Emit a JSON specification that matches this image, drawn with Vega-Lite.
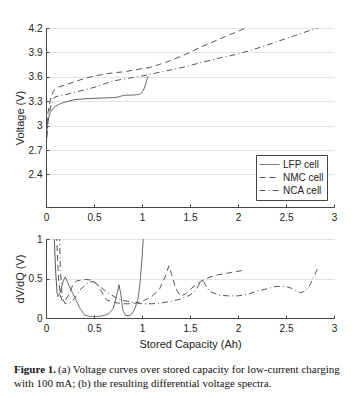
{
  "$schema": "https://vega.github.io/schema/vega-lite/v6.json",
  "padding": {"left": 14, "top": 23, "right": 5, "bottom": 5},
  "config": {
    "view": {"stroke": null},
    "font": "Liberation Sans",
    "axis": {
      "labelFont": "Liberation Sans", "labelFontSize": 10, "labelColor": "#222",
      "titleFont": "Liberation Sans", "titleFontSize": 11, "titleFontWeight": "normal", "titleColor": "#222",
      "domainColor": "#444", "tickColor": "#444", "tickSize": -3, "labelPadding": 7,
      "labelOverlap": false, "labelFlush": false, "format": ".1~f",
      "gridColor": "#e4e4e4", "gridWidth": 1
    },
    "axisX": {"labelPadding": 8},
    "legend": {
      "orient": "bottom-right", "offset": 7, "padding": 3, "strokeColor": "#444", "fillColor": "white",
      "cornerRadius": 0, "labelFont": "Liberation Sans", "labelFontSize": 10, "labelColor": "#222",
      "symbolType": "stroke", "symbolSize": 400, "symbolStrokeWidth": 1, "symbolStrokeColor": "#555",
      "rowPadding": 0, "clipHeight": 13, "labelOffset": 3, "title": null
    }
  },
  "datasets": {
    "volt": [
      {"cell": "LFP cell", "q": 0.0, "v": 2.55}, {"cell": "LFP cell", "q": 0.005, "v": 2.8}, {"cell": "LFP cell", "q": 0.01, "v": 2.95},
      {"cell": "LFP cell", "q": 0.02, "v": 3.05}, {"cell": "LFP cell", "q": 0.04, "v": 3.15}, {"cell": "LFP cell", "q": 0.07, "v": 3.21},
      {"cell": "LFP cell", "q": 0.1, "v": 3.24}, {"cell": "LFP cell", "q": 0.15, "v": 3.27}, {"cell": "LFP cell", "q": 0.2, "v": 3.29},
      {"cell": "LFP cell", "q": 0.3, "v": 3.32}, {"cell": "LFP cell", "q": 0.4, "v": 3.33}, {"cell": "LFP cell", "q": 0.5, "v": 3.335},
      {"cell": "LFP cell", "q": 0.6, "v": 3.34}, {"cell": "LFP cell", "q": 0.7, "v": 3.345}, {"cell": "LFP cell", "q": 0.75, "v": 3.35},
      {"cell": "LFP cell", "q": 0.8, "v": 3.37}, {"cell": "LFP cell", "q": 0.85, "v": 3.375}, {"cell": "LFP cell", "q": 0.9, "v": 3.375},
      {"cell": "LFP cell", "q": 0.95, "v": 3.38}, {"cell": "LFP cell", "q": 0.98, "v": 3.39}, {"cell": "LFP cell", "q": 1.0, "v": 3.41},
      {"cell": "LFP cell", "q": 1.02, "v": 3.45}, {"cell": "LFP cell", "q": 1.04, "v": 3.52}, {"cell": "LFP cell", "q": 1.055, "v": 3.58},
      {"cell": "LFP cell", "q": 1.065, "v": 3.61},
      {"cell": "NMC cell", "q": 0.0, "v": 2.9}, {"cell": "NMC cell", "q": 0.02, "v": 3.15}, {"cell": "NMC cell", "q": 0.05, "v": 3.35},
      {"cell": "NMC cell", "q": 0.08, "v": 3.43}, {"cell": "NMC cell", "q": 0.12, "v": 3.47}, {"cell": "NMC cell", "q": 0.2, "v": 3.5},
      {"cell": "NMC cell", "q": 0.3, "v": 3.54}, {"cell": "NMC cell", "q": 0.4, "v": 3.58}, {"cell": "NMC cell", "q": 0.5, "v": 3.61},
      {"cell": "NMC cell", "q": 0.6, "v": 3.63}, {"cell": "NMC cell", "q": 0.7, "v": 3.65}, {"cell": "NMC cell", "q": 0.8, "v": 3.66},
      {"cell": "NMC cell", "q": 0.9, "v": 3.68}, {"cell": "NMC cell", "q": 1.0, "v": 3.7}, {"cell": "NMC cell", "q": 1.1, "v": 3.72},
      {"cell": "NMC cell", "q": 1.2, "v": 3.76}, {"cell": "NMC cell", "q": 1.3, "v": 3.8}, {"cell": "NMC cell", "q": 1.4, "v": 3.85},
      {"cell": "NMC cell", "q": 1.5, "v": 3.9}, {"cell": "NMC cell", "q": 1.6, "v": 3.96}, {"cell": "NMC cell", "q": 1.7, "v": 4.01},
      {"cell": "NMC cell", "q": 1.8, "v": 4.06}, {"cell": "NMC cell", "q": 1.9, "v": 4.11}, {"cell": "NMC cell", "q": 2.0, "v": 4.16},
      {"cell": "NMC cell", "q": 2.08, "v": 4.2},
      {"cell": "NCA cell", "q": 0.0, "v": 2.7}, {"cell": "NCA cell", "q": 0.02, "v": 3.05}, {"cell": "NCA cell", "q": 0.05, "v": 3.25},
      {"cell": "NCA cell", "q": 0.09, "v": 3.35}, {"cell": "NCA cell", "q": 0.15, "v": 3.37}, {"cell": "NCA cell", "q": 0.2, "v": 3.38},
      {"cell": "NCA cell", "q": 0.3, "v": 3.41}, {"cell": "NCA cell", "q": 0.4, "v": 3.44}, {"cell": "NCA cell", "q": 0.5, "v": 3.47},
      {"cell": "NCA cell", "q": 0.6, "v": 3.51}, {"cell": "NCA cell", "q": 0.7, "v": 3.55}, {"cell": "NCA cell", "q": 0.8, "v": 3.57},
      {"cell": "NCA cell", "q": 0.9, "v": 3.59}, {"cell": "NCA cell", "q": 1.0, "v": 3.61}, {"cell": "NCA cell", "q": 1.2, "v": 3.66},
      {"cell": "NCA cell", "q": 1.4, "v": 3.71}, {"cell": "NCA cell", "q": 1.6, "v": 3.77}, {"cell": "NCA cell", "q": 1.8, "v": 3.83},
      {"cell": "NCA cell", "q": 2.0, "v": 3.88}, {"cell": "NCA cell", "q": 2.2, "v": 3.95}, {"cell": "NCA cell", "q": 2.4, "v": 4.03},
      {"cell": "NCA cell", "q": 2.6, "v": 4.11}, {"cell": "NCA cell", "q": 2.8, "v": 4.19}, {"cell": "NCA cell", "q": 2.83, "v": 4.2}
    ],
    "dvdq": [
      {"cell": "LFP cell", "q": 0.085, "d": 1.05}, {"cell": "LFP cell", "q": 0.1, "d": 0.6}, {"cell": "LFP cell", "q": 0.115, "d": 0.32},
      {"cell": "LFP cell", "q": 0.125, "d": 0.27}, {"cell": "LFP cell", "q": 0.15, "d": 0.33}, {"cell": "LFP cell", "q": 0.18, "d": 0.47},
      {"cell": "LFP cell", "q": 0.2, "d": 0.52}, {"cell": "LFP cell", "q": 0.22, "d": 0.47}, {"cell": "LFP cell", "q": 0.25, "d": 0.38},
      {"cell": "LFP cell", "q": 0.3, "d": 0.26}, {"cell": "LFP cell", "q": 0.35, "d": 0.13}, {"cell": "LFP cell", "q": 0.4, "d": 0.04},
      {"cell": "LFP cell", "q": 0.45, "d": 0.02}, {"cell": "LFP cell", "q": 0.5, "d": 0.02}, {"cell": "LFP cell", "q": 0.55, "d": 0.02},
      {"cell": "LFP cell", "q": 0.6, "d": 0.03}, {"cell": "LFP cell", "q": 0.65, "d": 0.05}, {"cell": "LFP cell", "q": 0.7, "d": 0.12},
      {"cell": "LFP cell", "q": 0.73, "d": 0.25}, {"cell": "LFP cell", "q": 0.76, "d": 0.42}, {"cell": "LFP cell", "q": 0.78, "d": 0.3},
      {"cell": "LFP cell", "q": 0.8, "d": 0.1}, {"cell": "LFP cell", "q": 0.83, "d": 0.03}, {"cell": "LFP cell", "q": 0.87, "d": 0.03},
      {"cell": "LFP cell", "q": 0.9, "d": 0.06}, {"cell": "LFP cell", "q": 0.93, "d": 0.13}, {"cell": "LFP cell", "q": 0.96, "d": 0.25},
      {"cell": "LFP cell", "q": 0.98, "d": 0.45}, {"cell": "LFP cell", "q": 1.0, "d": 0.75}, {"cell": "LFP cell", "q": 1.015, "d": 1.05},
      {"cell": "NMC cell", "q": 0.11, "d": 1.05}, {"cell": "NMC cell", "q": 0.13, "d": 0.5}, {"cell": "NMC cell", "q": 0.15, "d": 0.28},
      {"cell": "NMC cell", "q": 0.17, "d": 0.22}, {"cell": "NMC cell", "q": 0.2, "d": 0.22}, {"cell": "NMC cell", "q": 0.24, "d": 0.3},
      {"cell": "NMC cell", "q": 0.28, "d": 0.42}, {"cell": "NMC cell", "q": 0.32, "d": 0.47}, {"cell": "NMC cell", "q": 0.4, "d": 0.49},
      {"cell": "NMC cell", "q": 0.47, "d": 0.48}, {"cell": "NMC cell", "q": 0.53, "d": 0.43}, {"cell": "NMC cell", "q": 0.58, "d": 0.33},
      {"cell": "NMC cell", "q": 0.63, "d": 0.23}, {"cell": "NMC cell", "q": 0.7, "d": 0.2}, {"cell": "NMC cell", "q": 0.8, "d": 0.18},
      {"cell": "NMC cell", "q": 0.9, "d": 0.18}, {"cell": "NMC cell", "q": 1.0, "d": 0.21}, {"cell": "NMC cell", "q": 1.1, "d": 0.27},
      {"cell": "NMC cell", "q": 1.18, "d": 0.36}, {"cell": "NMC cell", "q": 1.24, "d": 0.52}, {"cell": "NMC cell", "q": 1.28, "d": 0.66},
      {"cell": "NMC cell", "q": 1.31, "d": 0.55}, {"cell": "NMC cell", "q": 1.35, "d": 0.38}, {"cell": "NMC cell", "q": 1.4, "d": 0.28},
      {"cell": "NMC cell", "q": 1.45, "d": 0.3}, {"cell": "NMC cell", "q": 1.5, "d": 0.36}, {"cell": "NMC cell", "q": 1.57, "d": 0.43},
      {"cell": "NMC cell", "q": 1.64, "d": 0.48}, {"cell": "NMC cell", "q": 1.71, "d": 0.52}, {"cell": "NMC cell", "q": 1.8, "d": 0.55},
      {"cell": "NMC cell", "q": 1.9, "d": 0.57}, {"cell": "NMC cell", "q": 2.04, "d": 0.6},
      {"cell": "NCA cell", "q": 0.14, "d": 1.05}, {"cell": "NCA cell", "q": 0.15, "d": 0.6}, {"cell": "NCA cell", "q": 0.17, "d": 0.25},
      {"cell": "NCA cell", "q": 0.2, "d": 0.18}, {"cell": "NCA cell", "q": 0.25, "d": 0.19}, {"cell": "NCA cell", "q": 0.3, "d": 0.25},
      {"cell": "NCA cell", "q": 0.35, "d": 0.35}, {"cell": "NCA cell", "q": 0.42, "d": 0.43}, {"cell": "NCA cell", "q": 0.47, "d": 0.46},
      {"cell": "NCA cell", "q": 0.5, "d": 0.46}, {"cell": "NCA cell", "q": 0.56, "d": 0.4}, {"cell": "NCA cell", "q": 0.62, "d": 0.34},
      {"cell": "NCA cell", "q": 0.67, "d": 0.3}, {"cell": "NCA cell", "q": 0.77, "d": 0.23}, {"cell": "NCA cell", "q": 0.9, "d": 0.2},
      {"cell": "NCA cell", "q": 1.0, "d": 0.18}, {"cell": "NCA cell", "q": 1.1, "d": 0.18}, {"cell": "NCA cell", "q": 1.2, "d": 0.19},
      {"cell": "NCA cell", "q": 1.3, "d": 0.21}, {"cell": "NCA cell", "q": 1.4, "d": 0.24}, {"cell": "NCA cell", "q": 1.5, "d": 0.29},
      {"cell": "NCA cell", "q": 1.56, "d": 0.35}, {"cell": "NCA cell", "q": 1.6, "d": 0.44}, {"cell": "NCA cell", "q": 1.63, "d": 0.49},
      {"cell": "NCA cell", "q": 1.66, "d": 0.42}, {"cell": "NCA cell", "q": 1.7, "d": 0.34}, {"cell": "NCA cell", "q": 1.8, "d": 0.29},
      {"cell": "NCA cell", "q": 1.9, "d": 0.28}, {"cell": "NCA cell", "q": 2.0, "d": 0.28}, {"cell": "NCA cell", "q": 2.1, "d": 0.3},
      {"cell": "NCA cell", "q": 2.2, "d": 0.34}, {"cell": "NCA cell", "q": 2.3, "d": 0.37}, {"cell": "NCA cell", "q": 2.4, "d": 0.4},
      {"cell": "NCA cell", "q": 2.5, "d": 0.4}, {"cell": "NCA cell", "q": 2.55, "d": 0.38}, {"cell": "NCA cell", "q": 2.6, "d": 0.35},
      {"cell": "NCA cell", "q": 2.65, "d": 0.32}, {"cell": "NCA cell", "q": 2.7, "d": 0.34}, {"cell": "NCA cell", "q": 2.75, "d": 0.42},
      {"cell": "NCA cell", "q": 2.8, "d": 0.55}, {"cell": "NCA cell", "q": 2.83, "d": 0.63}
    ]
  },
  "title": {
    "text": ["\u200b\u00a0\u00a0\u00a0\u00a0\u00a0\u00a0\u00a0\u00a0\u00a0\u00a0\u00a0\u00a0\u00a0\u00a0\u00a0\u00a0(a) Voltage curves over stored capacity for low-current charging", "with 100 mA; (b) the resulting differential voltage spectra."],
    "orient": "bottom", "anchor": "start", "frame": "bounds", "font": "Liberation Serif", "fontSize": 11,
    "fontWeight": "normal", "color": "#111", "lineHeight": 13.5, "offset": -11
  },
  "spacing": 12,
  "resolve": {"legend": {"strokeDash": "independent"}},
  "vconcat": [
    {
      "width": 288, "height": 179,
      "layer": [
        {
          "data": {"name": "volt"},
          "mark": {"type": "line", "color": "#555", "strokeWidth": 1, "clip": true},
          "encoding": {
            "x": {"field": "q", "type": "quantitative", "scale": {"domain": [0, 3]},
                  "axis": {"title": null, "values": [0, 0.5, 1, 1.5, 2, 2.5, 3], "tickCount": 10, "grid": false, "labelOverlap": false}},
            "y": {"field": "v", "type": "quantitative", "scale": {"domain": [2, 4.2]},
                  "axis": {"title": "Voltage (V)", "values": [2.4, 2.7, 3, 3.3, 3.6, 3.9, 4.2], "tickCount": 10, "grid": true, "titlePadding": 3, "labelOverlap": false}},
            "strokeDash": {"field": "cell", "type": "nominal",
                           "scale": {"domain": ["LFP cell", "NMC cell", "NCA cell"], "range": [[1, 0], [6, 4], [6, 3, 1, 3]]}}
          }
        },
        {
          "mark": {"type": "text", "text": "(a)", "align": "left", "baseline": "middle", "fontSize": 10.5, "color": "#222"},
          "encoding": {"x": {"datum": 0.03, "type": "quantitative"}, "y": {"datum": 4.08, "type": "quantitative"}}
        }
      ]
    },
    {
      "width": 288, "height": 79,
      "title": {"text": "Figure 1.", "orient": "bottom", "anchor": "start", "frame": "bounds", "font": "Liberation Serif",
                "fontSize": 11, "fontWeight": "bold", "color": "#111", "offset": 15},
      "layer": [
        {
          "data": {"name": "dvdq"},
          "mark": {"type": "line", "color": "#555", "strokeWidth": 1, "clip": true},
          "encoding": {
            "x": {"field": "q", "type": "quantitative", "scale": {"domain": [0, 3]},
                  "axis": {"title": "Stored Capacity (Ah)", "values": [0, 0.5, 1, 1.5, 2, 2.5, 3], "tickCount": 10, "grid": false, "titlePadding": 5, "labelOverlap": false}},
            "y": {"field": "d", "type": "quantitative", "scale": {"domain": [0, 1]},
                  "axis": {"title": "dV/dQ (V)", "values": [0, 0.5, 1], "tickCount": 10, "grid": true, "titlePadding": 3, "labelOverlap": false}},
            "strokeDash": {"field": "cell", "type": "nominal",
                           "scale": {"domain": ["LFP cell", "NMC cell", "NCA cell"], "range": [[1, 0], [6, 4], [6, 3, 1, 3]]},
                           "legend": null}
          }
        },
        {
          "mark": {"type": "text", "text": "(b)", "align": "left", "baseline": "middle", "fontSize": 10.5, "color": "#222"},
          "encoding": {"x": {"datum": 0.18, "type": "quantitative"}, "y": {"datum": 0.89, "type": "quantitative"}}
        }
      ]
    }
  ]
}
